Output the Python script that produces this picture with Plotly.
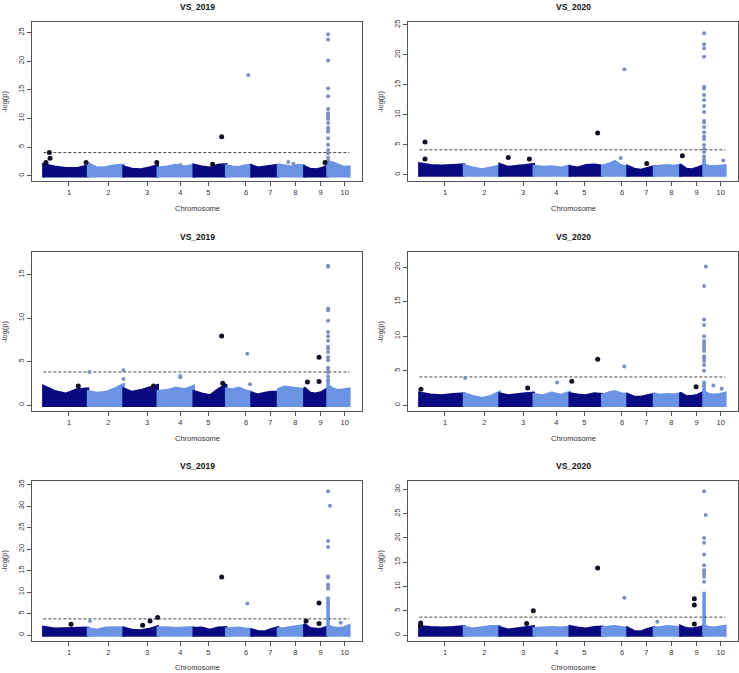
import numpy as np
import plotly.graph_objects as go

# ---------------- data ----------------
chrom_len = [307, 244, 235, 247, 223, 174, 182, 181, 159, 150]   # Mb, maize chr1..10
tick_pos = [176, 447, 712, 941, 1134, 1392, 1559, 1731, 1905, 2070]
tick_labels = ["1", "2", "3", "4", "5", "6", "7", "8", "9", "10"]
titles = ["VS_2019", "VS_2020", "VS_2019", "VS_2020", "VS_2019", "VS_2020"]

# upper envelope of the dense background cloud, 5 readings per chromosome
band_1 = [[2.0, 1.6, 1.3, 1.3, 1.8], [2.2, 1.4, 1.5, 1.8, 1.9], [1.6, 1.2, 1.1, 1.4, 1.8],
          [1.4, 1.6, 1.9, 1.6, 1.9], [1.9, 1.6, 1.4, 1.9, 2.0], [1.8, 1.6, 1.5, 1.8, 1.9],
          [1.8, 1.4, 1.6, 1.8, 1.9], [1.9, 1.8, 1.6, 1.9, 1.8], [1.6, 1.2, 1.1, 1.3, 1.8],
          [2.5, 2.3, 1.9, 1.5, 1.6]]
band_2 = [[1.9, 1.6, 1.5, 1.6, 1.7], [1.6, 1.2, 0.9, 1.2, 1.5], [1.8, 1.3, 1.4, 1.6, 1.8],
          [1.5, 1.3, 1.4, 1.2, 1.5], [1.4, 1.2, 1.6, 1.7, 1.5], [1.5, 1.8, 2.3, 1.6, 1.3],
          [1.5, 1.0, 0.8, 1.1, 1.4], [1.4, 1.5, 1.6, 1.5, 1.7], [1.7, 1.0, 0.9, 1.2, 1.6],
          [1.7, 1.5, 1.4, 1.5, 1.6]]
band_3 = [[2.2, 1.6, 1.3, 1.8, 1.9], [1.6, 1.4, 1.5, 1.9, 2.4], [1.9, 1.5, 1.7, 2.0, 2.3],
          [1.6, 1.7, 2.0, 1.8, 2.2], [1.6, 1.3, 1.1, 1.8, 2.4], [1.9, 1.8, 2.0, 1.7, 1.5],
          [1.4, 1.2, 1.4, 1.5, 1.5], [1.8, 2.1, 2.0, 1.9, 1.8], [2.0, 1.4, 1.3, 1.5, 1.9],
          [2.3, 1.9, 1.7, 1.8, 1.9]]
band_4 = [[1.8, 1.5, 1.4, 1.6, 1.7], [1.7, 1.3, 1.0, 1.3, 1.9], [1.7, 1.4, 1.6, 1.7, 1.8],
          [1.6, 1.4, 1.8, 1.5, 1.9], [1.7, 1.5, 1.4, 1.7, 1.6], [1.5, 1.8, 2.0, 1.7, 1.6],
          [1.6, 1.2, 1.2, 1.4, 1.6], [1.6, 1.5, 1.6, 1.5, 1.7], [1.8, 1.3, 1.3, 1.5, 1.9],
          [2.0, 1.6, 1.5, 1.6, 1.8]]
band_5 = [[1.9, 1.5, 1.6, 1.6, 1.7], [1.6, 1.2, 1.7, 1.8, 1.7], [1.7, 1.2, 1.1, 1.4, 2.0],
          [1.7, 1.8, 1.6, 1.7, 1.8], [1.6, 1.7, 1.2, 1.7, 1.8], [1.5, 1.6, 1.7, 1.5, 1.4],
          [1.3, 0.9, 0.8, 1.4, 1.8], [1.5, 1.6, 1.8, 2.1, 2.3], [2.6, 1.6, 1.4, 1.5, 1.9],
          [2.2, 1.8, 1.6, 1.8, 2.3]]
band_6 = [[1.8, 1.6, 1.5, 1.6, 1.8], [1.7, 1.3, 1.6, 1.8, 1.8], [1.6, 1.1, 1.3, 1.6, 1.8],
          [1.4, 1.5, 1.6, 1.5, 1.7], [1.8, 1.5, 1.3, 1.6, 1.7], [1.5, 1.7, 1.8, 1.6, 1.5],
          [1.5, 0.8, 0.7, 1.2, 1.6], [1.5, 1.6, 1.8, 1.7, 1.6], [1.9, 1.4, 1.3, 1.5, 1.8],
          [2.0, 1.6, 1.5, 1.7, 1.9]]

# individual SNPs standing out of the cloud (cumulative Mb, -log(p))
snp_x_1 = [41, 46, 18, 293, 779, 941, 1163, 1225, 1408, 1683, 1718, 1935]
snp_y_1 = [4.06, 3.07, 2.3, 2.3, 2.3, 1.9, 2.0, 6.8, 17.6, 2.4, 2.1, 2.3]
snp_x_2 = [39, 39, 611, 756, 1225, 1408, 1383, 1807, 1562, 2088]
snp_y_2 = [5.5, 2.66, 2.9, 2.66, 7.0, 17.6, 2.8, 3.2, 1.9, 2.4]
snp_x_3 = [316, 550, 550, 941, 941, 1225, 1401, 1894, 1814, 1894, 240, 756, 1232, 1420]
snp_y_3 = [3.8, 4.0, 3.0, 3.36, 3.2, 7.94, 5.9, 5.5, 2.67, 2.7, 2.2, 2.2, 2.5, 2.4]
snp_x_4 = [314, 946, 1047, 1225, 1408, 1901, 2020, 2077, 11, 744, 1968]
snp_y_4 = [3.94, 3.3, 3.47, 6.65, 5.6, 2.66, 2.85, 2.4, 2.3, 2.5, 20.1]
snp_x_5 = [190, 321, 733, 785, 682, 1225, 1401, 1894, 1894, 1805, 2043, 1969]
snp_y_5 = [2.55, 3.3, 3.3, 4.1, 2.3, 13.5, 7.34, 7.5, 2.7, 3.3, 2.9, 30.1]
snp_x_6 = [9, 9, 783, 737, 1225, 1408, 1635, 1889, 1889, 1889, 1967]
snp_y_6 = [2.5, 2.05, 5.0, 2.4, 13.8, 7.7, 2.74, 7.5, 6.2, 2.26, 24.7]

# the chromosome-10 peak column
peak_pos = 1956
peak_1 = [24.7, 23.8, 20.1, 15.25, 13.9, 11.65, 10.9, 10.5, 10.15, 9.9, 9.2, 8.4, 8.0,
          7.7, 6.55, 5.4, 4.5, 3.95, 3.2, 2.7]
peak_2 = [23.6, 21.8, 21.1, 19.7, 14.7, 14.4, 13.3, 12.5, 11.5, 10.5, 9.0, 8.76, 8.0,
          7.1, 6.4, 6.0, 5.0, 4.3, 3.8, 3.05, 2.5]
peak_3 = [16.0, 15.9, 11.1, 10.9, 9.7, 8.4, 7.9, 7.4, 6.7, 6.5, 6.1, 5.5, 5.15, 4.3,
          4.05, 3.75, 3.3, 2.9]
peak_4 = [17.25, 12.4, 11.6, 9.98, 9.3, 8.93, 8.6, 8.3, 7.84, 7.1, 6.8, 6.4, 5.84, 5.0,
          3.3, 2.8]
peak_5 = [33.5, 21.9, 20.5, 13.7, 13.4, 11.75, 11.2, 10.8, 8.5, 7.3]
peak_6 = [29.6, 20.0, 19.0, 16.6, 14.4, 13.4, 13.0, 12.5, 12.0, 11.0]
column_top = [2.6, 2.5, 3.0, 3.3, 8.5, 8.9]

threshold = [4.05, 4.17, 3.81, 4.09, 3.78, 3.7]
y_max = [26.85, 25.5, 17.6, 22.2, 35.96, 31.8]
y_min = [-0.99, -1.1, -0.73, -0.91, -1.32, -1.17]
y_step = [5, 5, 5, 5, 5, 5]

bands = [band_1, band_2, band_3, band_4, band_5, band_6]
snp_x = [snp_x_1, snp_x_2, snp_x_3, snp_x_4, snp_x_5, snp_x_6]
snp_y = [snp_y_1, snp_y_2, snp_y_3, snp_y_4, snp_y_5, snp_y_6]
peaks = [peak_1, peak_2, peak_3, peak_4, peak_5, peak_6]

# ---------------- style / layout ----------------
W, H = 739, 673
DARK = "#0a0a80"
LIGHT = "#6b93e3"
OUT_DARK = "#111122"
OUT_LIGHT = "#7d91c0"
FONT = "Liberation Sans, Arial, sans-serif"
TXT = "#333333"

col_x = [(32, 362), (408, 738)]
row_y = [(20, 180), (250.7, 410.7), (480, 640.7)]

bounds = np.concatenate([[0], np.cumsum(chrom_len)])
total = bounds[-1]
x_range = [-78, total + 87]

fig = go.Figure()
annotations = []

def chrom_index(xv):
    return np.searchsorted(bounds, np.asarray(xv), side="right") - 1

for i in range(6):
    r, c = divmod(i, 2)
    ax = "" if i == 0 else str(i + 1)
    xref, yref = "x" + ax, "y" + ax
    x0p, x1p = col_x[c]
    y0p, y1p = row_y[r]
    ylo = y_min[i] * 0.3

    # background cloud
    for k in range(10):
        s, e = bounds[k], bounds[k + 1]
        xs = np.linspace(s, e, len(bands[i][k]))
        px = [s] + list(xs) + [e]
        py = [ylo] + list(bands[i][k]) + [ylo]
        colr = DARK if k % 2 == 0 else LIGHT
        fig.add_trace(go.Scatter(x=px, y=py, mode="lines", fill="toself", fillcolor=colr,
                                 line=dict(color=colr, width=2.5), hoverinfo="skip",
                                 showlegend=False, xaxis=xref, yaxis=yref))

    # dense column of the chr10 peak
    pk_band = bands[i][9][0]
    fig.add_trace(go.Scatter(x=[peak_pos, peak_pos], y=[pk_band, column_top[i]], mode="lines",
                             line=dict(color=LIGHT, width=3.5), showlegend=False,
                             hoverinfo="skip", xaxis=xref, yaxis=yref))

    # threshold
    fig.add_trace(go.Scatter(x=[0, total], y=[threshold[i]] * 2, mode="lines",
                             line=dict(color="#444444", width=1, dash="3px,2px"),
                             showlegend=False, hoverinfo="skip", xaxis=xref, yaxis=yref))

    # outstanding SNPs
    sx = np.array(snp_x[i] + [peak_pos] * len(peaks[i]), dtype=float)
    sy = np.array(snp_y[i] + peaks[i], dtype=float)
    idx = chrom_index(sx)
    dark = idx % 2 == 0
    fig.add_trace(go.Scatter(x=sx[~dark], y=sy[~dark], mode="markers",
                             marker=dict(color=OUT_LIGHT, size=4, line=dict(width=0)),
                             showlegend=False, xaxis=xref, yaxis=yref))
    fig.add_trace(go.Scatter(x=sx[dark], y=sy[dark], mode="markers",
                             marker=dict(color=OUT_DARK, size=5, line=dict(width=0)),
                             showlegend=False, xaxis=xref, yaxis=yref))

    common = dict(showline=True, mirror=True, linecolor="#555555", linewidth=1,
                  ticks="outside", ticklen=4, tickcolor="#555555", showgrid=False,
                  zeroline=False, tickfont=dict(family=FONT, size=7.5, color=TXT))
    fig.layout["xaxis" + ax] = dict(domain=[x0p / W, x1p / W], anchor=yref, range=x_range,
                                    tickvals=tick_pos, ticktext=tick_labels, **common)
    yt = list(range(0, int(y_max[i]) + 1, y_step[i]))
    fig.layout["yaxis" + ax] = dict(domain=[1 - y1p / H, 1 - y0p / H], anchor=xref,
                                    range=[y_min[i], y_max[i]], tickvals=yt, tickangle=-90,
                                    **common)

    cx = (x0p + x1p) / 2 / W
    annotations.append(dict(text="<b>%s</b>" % titles[i], x=cx, y=1 - (y0p - 14.5) / H,
                            xref="paper", yref="paper", showarrow=False,
                            xanchor="center", yanchor="middle",
                            font=dict(family=FONT, size=8.5, color="#111111")))
    annotations.append(dict(text="Chromosome", x=cx, y=1 - (y1p + 27) / H,
                            xref="paper", yref="paper", showarrow=False,
                            xanchor="center", yanchor="middle",
                            font=dict(family=FONT, size=7.5, color=TXT)))
    annotations.append(dict(text="-log(p)", x=(x0p - 27) / W, y=1 - (y0p + y1p) / 2 / H,
                            xref="paper", yref="paper", showarrow=False, textangle=-90,
                            xanchor="center", yanchor="middle",
                            font=dict(family=FONT, size=7.5, color=TXT)))

fig.update_layout(width=W, height=H, margin=dict(l=0, r=0, t=0, b=0),
                  paper_bgcolor="white", plot_bgcolor="white", showlegend=False,
                  annotations=annotations)

fig.write_html("out.html")
